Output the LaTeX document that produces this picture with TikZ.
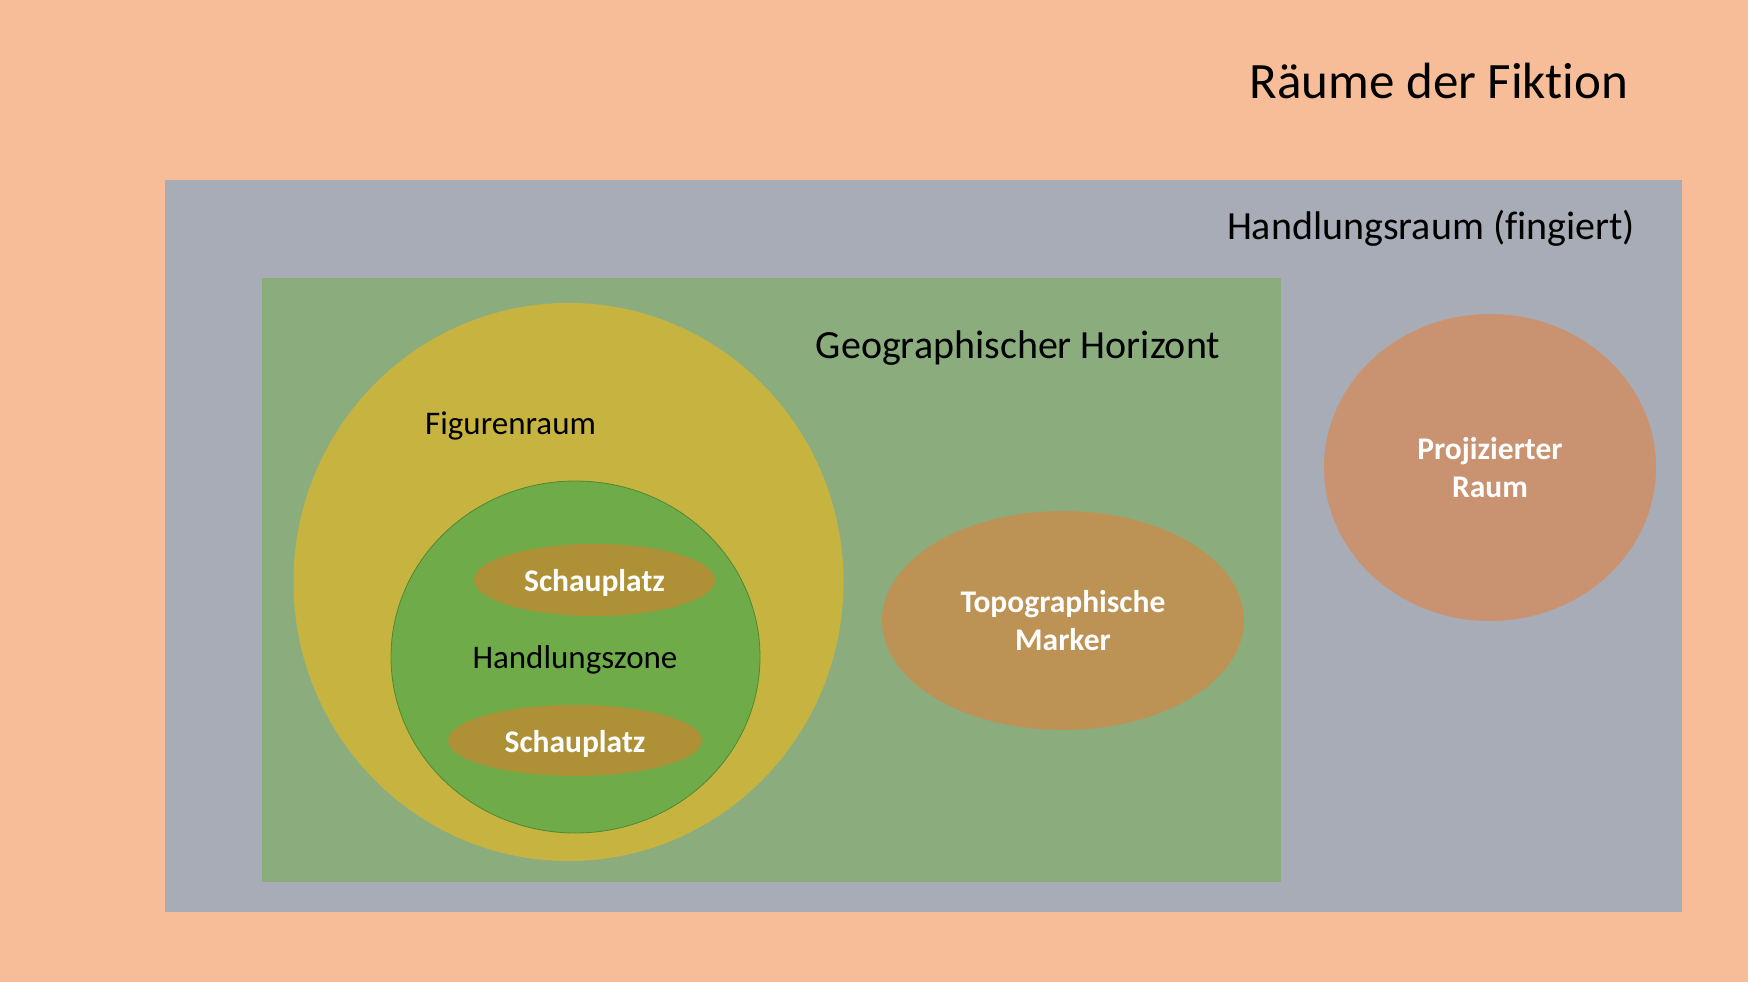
\documentclass[tikz,border=0pt]{standalone}
\usepackage{fontspec}
\setmainfont[Ligatures=NoCommon]{Carlito}
\usetikzlibrary{shapes.geometric}
\definecolor{bgc}{HTML}{F7BD98}
\definecolor{grayc}{HTML}{A8ACB6}
\definecolor{geoc}{HTML}{8BAD7E}
\definecolor{figc}{HTML}{C7B440}
\definecolor{zonec}{HTML}{6FAB48}
\definecolor{zoneb}{HTML}{4E8A30}
\definecolor{schauc}{HTML}{AE9137}
\definecolor{topoc}{HTML}{BC9355}
\definecolor{projc}{HTML}{C99371}
\tikzset{
  area/.style={rectangle, inner sep=0pt, outer sep=0pt, anchor=north west},
  blob/.style={ellipse, inner sep=0pt, outer sep=0pt, align=center, text=white, font=\fontsize{31.5}{38}\bfseries\selectfont},
  lbl/.style={inner sep=0pt, text=black}
}
\begin{document}
\begin{tikzpicture}[x=1pt,y=-1pt]
\fill[bgc] (0,0) rectangle (1748,982);
\path[use as bounding box] (0,0) rectangle (1748,982);
\node[lbl, font=\fontsize{51}{60}\selectfont] (title) at (1439,81) {Räume der Fiktion};
\node[area, fill=grayc, minimum width=1517pt, minimum height=732pt] (hr) at (165,180) {};
\node[lbl, font=\fontsize{40}{48}\selectfont] (hrl) at (1431,228) {Handlungsraum (fingiert)};
\node[area, fill=geoc, minimum width=1019pt, minimum height=604pt] (geo) at (262,278) {};
\node[lbl, font=\fontsize{40}{48}\selectfont] (geol) at (1018,348) {Geographischer Horizont};
\node[blob, fill=figc, minimum width=550pt, minimum height=558pt] (fig) at (568.5,582) {};
\node[lbl, font=\fontsize{33}{40}\selectfont] (figl) at (510.6,426) {Figurenraum};
\node[blob, fill=zonec, draw=zoneb, line width=0.8pt, minimum width=369pt, minimum height=352pt] (zone) at (575.5,657) {};
\node[lbl, font=\fontsize{33}{40}\selectfont] (zonel) at (575,660) {Handlungszone};
\node[blob, fill=schauc, minimum width=241pt, minimum height=72pt] (s1) at (594.5,580) {\raisebox{-3pt}[\height][\depth]{Schauplatz}};
\node[blob, fill=schauc, minimum width=254pt, minimum height=71pt] (s2) at (575,740.5) {\raisebox{-3pt}[\height][\depth]{Schauplatz}};
\node[blob, fill=topoc, minimum width=362pt, minimum height=219pt] (topo) at (1063,620.5) {Topographische\\Marker};
\node[blob, fill=projc, minimum width=332pt, minimum height=307pt] (proj) at (1490,467.5) {Projizierter\\Raum};
\end{tikzpicture}
\end{document}
